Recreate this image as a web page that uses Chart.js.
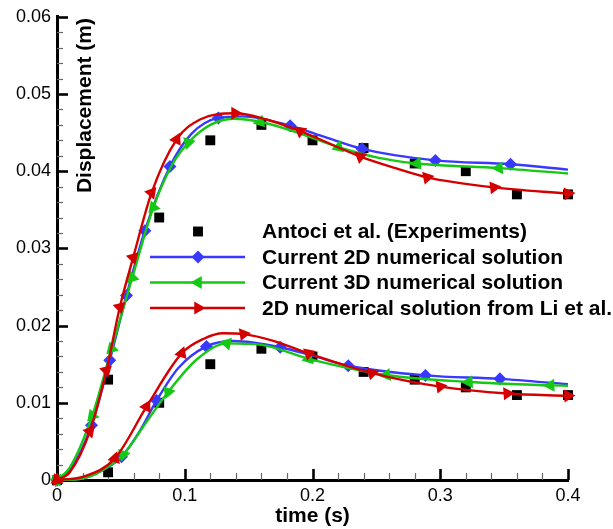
<!DOCTYPE html>
<html>
<head>
<meta charset="utf-8">
<script src="https://cdn.jsdelivr.net/npm/chart.js@4"></script>
<style>
  html, body { margin: 0; padding: 0; background: #fff; }
  #wrap { width: 613px; height: 529px; }
</style>
</head>
<body>
<div id="wrap"><canvas id="c" width="613" height="529"></canvas></div>
<script>
// ---- Experimental points (Antoci et al.) ----
const expTime  = [0, 0.04, 0.08, 0.12, 0.16, 0.20, 0.24, 0.28, 0.32, 0.36, 0.40];
const expUpper = [0, 0.013, 0.034, 0.044, 0.046, 0.044, 0.043, 0.041, 0.040, 0.037, 0.037];
const expLower = [0, 0.001, 0.010, 0.015, 0.017, 0.016, 0.014, 0.013, 0.012, 0.011, 0.011];

// ---- Current 2D numerical solution ----
const up2dTime = [0, 0.01, 0.027, 0.0413, 0.0544, 0.0688, 0.0884, 0.105, 0.1263, 0.145, 0.1825, 0.21, 0.2387, 0.2962, 0.355, 0.4];
const up2dDisp = [0, 0.0012, 0.0071, 0.0155, 0.0239, 0.0323, 0.0406, 0.0448, 0.0469, 0.0471, 0.0459, 0.0444, 0.0429, 0.0414, 0.0409, 0.0402];
const lo2dTime = [0, 0.02, 0.035, 0.0505, 0.065, 0.078, 0.095, 0.117, 0.138, 0.1747, 0.2, 0.228, 0.2884, 0.3467, 0.4];
const lo2dDisp = [0, 0.0002, 0.0012, 0.003, 0.0064, 0.0103, 0.0145, 0.0173, 0.0180, 0.0172, 0.0161, 0.0148, 0.01355, 0.0131, 0.0124];

// ---- Current 3D numerical solution ----
const up3dTime = [0, 0.01, 0.0275, 0.0427, 0.0589, 0.0754, 0.09, 0.1028, 0.12, 0.138, 0.159, 0.19, 0.2204, 0.25, 0.2819, 0.346, 0.4];
const up3dDisp = [0, 0.0016, 0.0083, 0.017, 0.0262, 0.0353, 0.0408, 0.0437, 0.0460, 0.0468, 0.0464, 0.0449, 0.0431, 0.0418, 0.0410, 0.0404, 0.0397];
const lo3dTime = [0, 0.02, 0.035, 0.0518, 0.07, 0.087, 0.11, 0.133, 0.16, 0.197, 0.258, 0.3224, 0.3864, 0.4];
const lo3dDisp = [0, 0.0002, 0.0012, 0.0033, 0.0075, 0.0114, 0.0157, 0.0177, 0.0175, 0.0157, 0.0136, 0.0127, 0.01226, 0.0122];

// ---- 2D numerical solution from Li et al. ----
const upLiTime = [0, 0.01, 0.0257, 0.0387, 0.0492, 0.0596, 0.074, 0.0936, 0.112, 0.1394, 0.164, 0.1904, 0.2374, 0.265, 0.2897, 0.342, 0.4];
const upLiDisp = [0, 0.001, 0.0063, 0.0142, 0.0224, 0.0288, 0.0372, 0.0441, 0.0467, 0.0475, 0.0467, 0.0452, 0.0419, 0.0404, 0.0392, 0.0379, 0.0371];
const loLiTime = [0, 0.02, 0.0453, 0.0701, 0.0976, 0.115, 0.13, 0.146, 0.17, 0.197, 0.2466, 0.300, 0.3525, 0.4];
const loLiDisp = [0, 0.0004, 0.0028, 0.0095, 0.0164, 0.0183, 0.0190, 0.0189, 0.0180, 0.0164, 0.01385, 0.0121, 0.0112, 0.0109];

// which samples carry a symbol
const up2dMarks = [0, 2, 3, 4, 5, 6, 8, 10, 12, 13, 14];
const lo2dMarks = [0, 3, 5, 7, 9, 11, 12, 13];
const up3dMarks = [0, 2, 3, 4, 5, 7, 10, 12, 14, 15];
const lo3dMarks = [0, 3, 5, 7, 9, 10, 11, 12];
const upLiMarks = [0, 2, 3, 4, 5, 6, 7, 9, 11, 12, 14, 15, 16];
const loLiMarks = [0, 2, 3, 4, 7, 9, 10, 11, 12, 13];

// axis ticks
const xTicks = [0, 0.1, 0.2, 0.3, 0.4];
const yTicks = [0, 0.01, 0.02, 0.03, 0.04, 0.05, 0.06];

const seriesLabels = [
  'Antoci et al. (Experiments)',
  'Current 2D numerical solution',
  'Current 3D numerical solution',
  '2D numerical solution from Li et al.'
];

const BLUE = '#3838ff', GREEN = '#14c814', RED = '#d40000';
const FONT = '"Liberation Sans", Arial, Helvetica, sans-serif';

const pts = (t, d) => t.map((v, i) => ({ x: v, y: d[i] }));

// screen-space direction of the curve at a sample (degrees, up = positive)
function slopeAngle(ctx) {
  const chart = ctx.chart, data = ctx.dataset.data, i = ctx.dataIndex;
  const xs = chart.scales.x, ys = chart.scales.y;
  if (!xs || !ys || !data || data.length < 2) return 0;
  const a = data[Math.max(0, i - 1)], b = data[Math.min(data.length - 1, i + 1)];
  const dx = xs.getPixelForValue(b.x) - xs.getPixelForValue(a.x);
  const dy = ys.getPixelForValue(b.y) - ys.getPixelForValue(a.y);
  return Math.atan2(-dy, dx) * 180 / Math.PI;
}

function curve(label, t, d, marks, color, style, baseRot, order) {
  return {
    label, data: pts(t, d), showLine: true,
    borderColor: color, backgroundColor: color, borderWidth: 2.4,
    cubicInterpolationMode: 'monotone', clip: false, order,
    pointStyle: style, pointBorderWidth: 0,
    pointRadius: ctx => marks.includes(ctx.dataIndex) ? (style === 'rectRot' ? 6.5 : 7.5) : 0,
    pointRotation: baseRot === null ? 0 : (ctx => baseRot + slopeAngle(ctx)),
    pointHoverRadius: 0
  };
}

const datasets = [
  {
    label: seriesLabels[0],
    data: pts(expTime, expUpper).concat(pts(expTime, expLower)),
    showLine: false, pointStyle: 'rect', pointRadius: 7, pointBorderWidth: 0,
    backgroundColor: '#000', borderColor: '#000', clip: false, order: 5
  },
  curve(seriesLabels[1], up2dTime, up2dDisp, up2dMarks, BLUE, 'rectRot', null, 4),
  curve(seriesLabels[2], up3dTime, up3dDisp, up3dMarks, GREEN, 'triangle', 270, 3),
  curve(seriesLabels[3], upLiTime, upLiDisp, upLiMarks, RED, 'triangle', 90, 2),
  curve(seriesLabels[1], lo2dTime, lo2dDisp, lo2dMarks, BLUE, 'rectRot', null, 4),
  curve(seriesLabels[2], lo3dTime, lo3dDisp, lo3dMarks, GREEN, 'triangle', 270, 3),
  curve(seriesLabels[3], loLiTime, loLiDisp, loLiMarks, RED, 'triangle', 90, 2)
];

// inward major/minor ticks, axis title inside the frame, and the legend box
const decorations = {
  id: 'decorations',
  beforeDatasetsDraw(chart) {
    const { ctx } = chart;
    const xs = chart.scales.x, ys = chart.scales.y;
    const left = chart.chartArea.left, bottom = chart.chartArea.bottom;
    ctx.save();
    // y ticks
    for (let k = 0; k <= 30; k++) {
      const v = k * 0.002;
      const py = Math.round(ys.getPixelForValue(v)) + 0.5;
      const major = k % 5 === 0;
      ctx.strokeStyle = major ? '#000' : '#666';
      ctx.lineWidth = major ? 2.6 : 1.2;
      ctx.beginPath();
      ctx.moveTo(left, py);
      ctx.lineTo(left + (major ? 11 : 6), py);
      ctx.stroke();
    }
    // x ticks
    for (let k = 0; k <= 20; k++) {
      const v = k * 0.02;
      const px = Math.round(xs.getPixelForValue(v)) + 0.5;
      const major = k % 5 === 0;
      ctx.strokeStyle = major ? '#000' : '#666';
      ctx.lineWidth = major ? 2.6 : 1.2;
      ctx.beginPath();
      ctx.moveTo(px, bottom);
      ctx.lineTo(px, bottom - (major ? 11 : 7));
      ctx.stroke();
    }
    // y axis title, set inside the plotting frame
    ctx.translate(left + 34, ys.getPixelForValue(0.0485));
    ctx.rotate(-Math.PI / 2);
    ctx.fillStyle = '#000';
    ctx.font = 'bold 21px ' + FONT;
    ctx.textAlign = 'center';
    ctx.textBaseline = 'alphabetic';
    ctx.fillText('Displacement (m)', 0, 0);
    ctx.restore();
  },
  afterDatasetsDraw(chart) {
    const { ctx } = chart;
    const left = chart.chartArea.left;
    const rows = [231.5, 257, 282.5, 308];
    const lineX0 = left + 93, lineX1 = left + 188, symX = left + 141, textX = left + 205;
    const entries = [
      { ds: chart.data.datasets[0], line: false, rot: 0 },
      { ds: chart.data.datasets[1], line: true, rot: 0 },
      { ds: chart.data.datasets[2], line: true, rot: 270 },
      { ds: chart.data.datasets[3], line: true, rot: 90 }
    ];
    ctx.save();
    entries.forEach((e, i) => {
      const y = rows[i];
      const color = e.ds.backgroundColor;
      if (e.line) {
        ctx.strokeStyle = color;
        ctx.lineWidth = 2.4;
        ctx.beginPath();
        ctx.moveTo(lineX0, y);
        ctx.lineTo(lineX1, y);
        ctx.stroke();
      }
      ctx.fillStyle = color;
      ctx.strokeStyle = color;
      const r = e.ds.pointStyle === 'rect' ? 7 : (e.ds.pointStyle === 'rectRot' ? 6.5 : 7.5);
      Chart.helpers.drawPoint(ctx, { pointStyle: e.ds.pointStyle, radius: r, rotation: e.rot, borderWidth: 0 }, symX, y);
      ctx.fillStyle = '#000';
      ctx.font = 'bold 21px ' + FONT;
      ctx.textAlign = 'left';
      ctx.textBaseline = 'middle';
      ctx.fillText(e.ds.label, textX, y + 1);
    });
    ctx.restore();
  }
};

new Chart(document.getElementById('c'), {
  type: 'scatter',
  data: { datasets },
  plugins: [decorations],
  options: {
    responsive: false,
    animation: false,
    devicePixelRatio: 1,
    events: [],
    layout: { padding: { top: 15, right: 45, left: 0, bottom: 0 } },
    plugins: { legend: { display: false }, tooltip: { enabled: false } },
    scales: {
      x: {
        type: 'linear', min: 0, max: 0.4,
        afterFit: s => { s.height = 49; },
        afterBuildTicks: s => { s.ticks = xTicks.map(v => ({ value: v })); },
        grid: { display: false, drawTicks: false },
        border: { display: true, color: '#000', width: 3 },
        ticks: {
          color: '#000', font: { family: FONT, size: 18 }, padding: 5, maxRotation: 0,
          callback: v => v === 0 ? '0' : v.toFixed(1)
        },
        title: {
          display: true, text: 'time (s)', color: '#000',
          font: { family: FONT, size: 21, weight: 'bold' }, padding: { top: 0, bottom: 0 }
        }
      },
      y: {
        type: 'linear', min: 0, max: 0.06,
        afterFit: s => { s.width = 57; },
        afterBuildTicks: s => { s.ticks = yTicks.map(v => ({ value: v })); },
        grid: { display: false, drawTicks: false },
        border: { display: true, color: '#000', width: 3 },
        ticks: {
          color: '#000', font: { family: FONT, size: 18 }, padding: 6,
          callback: v => v === 0 ? '0' : v.toFixed(2)
        }
      }
    }
  }
});
</script>
</body>
</html>
